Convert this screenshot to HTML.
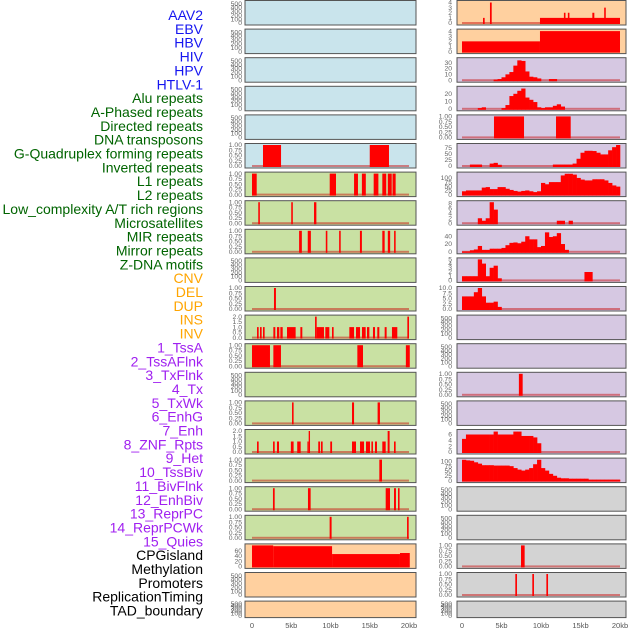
<!DOCTYPE html>
<html><head><meta charset="utf-8"><style>
body{margin:0;background:#fff;width:630px;height:630px;overflow:hidden}
svg{display:block}
.lab{font-family:"Liberation Sans",sans-serif;font-size:14px}
.tk{font-family:"Liberation Sans",sans-serif;font-size:6.8px;fill:#666}
.xt{font-family:"Liberation Sans",sans-serif;font-size:7.5px;fill:#555}
</style></head><body>
<svg id="chart" width="630" height="630"></svg>
<script>
const trackLabels=["AAV2","EBV","HBV","HIV","HPV","HTLV-1","Alu repeats","A-Phased repeats","Directed repeats","DNA transposons","G-Quadruplex forming repeats","Inverted repeats","L1 repeats","L2 repeats","Low_complexity A/T rich regions","Microsatellites","MIR repeats","Mirror repeats","Z-DNA motifs","CNV","DEL","DUP","INS","INV","1_TssA","2_TssAFlnk","3_TxFlnk","4_Tx","5_TxWk","6_EnhG","7_Enh","8_ZNF_Rpts","9_Het","10_TssBiv","11_BivFlnk","12_EnhBiv","13_ReprPC","14_ReprPCWk","15_Quies","CPGisland","Methylation","Promoters","ReplicationTiming","TAD_boundary"];
const labelColors=["#1515f0","#1515f0","#1515f0","#1515f0","#1515f0","#1515f0","#006400","#006400","#006400","#006400","#006400","#006400","#006400","#006400","#006400","#006400","#006400","#006400","#006400","#ffa500","#ffa500","#ffa500","#ffa500","#ffa500","#a020f0","#a020f0","#a020f0","#a020f0","#a020f0","#a020f0","#a020f0","#a020f0","#a020f0","#a020f0","#a020f0","#a020f0","#a020f0","#a020f0","#a020f0","#000","#000","#000","#000","#000"];
const xTicks=[0,5,10,15,20];
const xTickLabels=["0","5kb","10kb","15kb","20kb"];
const barsL5=[[1.4,3.7,1],[15.0,17.45,1]];
const barsL6=[[0,0.6,1],[9.9,10.7,1],[13.0,13.5,1],[14.0,14.5,1],[15.5,16.1,1],[16.6,17.1,1],[17.3,17.8,1],[17.9,18.3,1]];
const barsL7=[[0.8,1.0,1],[5.0,5.2,1],[7.9,8.2,1]];
const barsL8=[[6.0,6.35,1],[7.1,7.5,1],[9.4,9.6,1],[11.1,11.3,1],[13.75,14.0,1],[16.6,16.9,1],[17.3,17.6,1],[18.1,18.3,1]];
const barsL10=[[2.8,3.05,1]];
const barsL11=[[0.64,0.85,1],[1.02,1.23,1],[1.4,1.61,1],[2.72,2.97,1],[3.18,3.48,1],[3.61,3.91,1],[4.46,5.56,1],[6.16,6.41,1],[8.03,8.24,2],[8.24,9.17,1],[9.34,9.85,1],[10.19,10.4,1],[12.4,13.0,1],[13.25,13.76,1],[14.01,14.48,1],[14.65,14.95,1],[15.41,15.67,1],[15.96,16.22,1],[16.9,17.15,1],[17.83,18.51,1],[19.79,20.0,2]];
const barsL12=[[0,2.29,1],[2.72,3.69,1],[13.42,14.14,1],[19.6,20.1,1]];
const barsL14=[[5.1,5.3,1],[12.74,13.0,1],[16.0,16.3,1]];
const barsL15=[[0.64,0.85,1],[2.68,2.89,1],[3.18,3.44,1],[4.95,5.3,1],[5.76,6.2,1],[7.06,7.22,1],[7.22,7.39,2],[8.44,8.66,1],[8.78,9.0,1],[9.97,10.2,1],[12.74,13.25,1],[13.76,14.27,1],[14.52,15.03,1],[15.21,15.41,1],[15.67,15.92,1],[16.6,17.03,1],[17.28,17.53,2],[18.09,18.3,1]];
const barsL16=[[16.22,16.56,1]];
const barsL17=[[2.67,2.89,1],[7.13,7.47,1],[17.03,17.58,1],[18.09,18.34,1],[18.6,18.8,1]];
const barsL18=[[9.89,10.14,1],[19.75,19.96,1]];
const barsL19=[[0,2.7,80],[2.7,10.2,77],[10.2,18.85,47],[18.85,20.1,51]];
const barsR0=[[0,20,0],[2.66,2.87,1],[3.54,3.76,4],[9.87,20,1],[12.9,13.1,2],[13.4,13.6,2],[16.5,16.75,2],[18.0,18.2,3]];
const barsR1=[[0,9.87,2],[9.87,20,4]];
const binsR2=[0,0,0,0,0,0,0,0,1,2,5,10,14,25,34,33,15,6,5,3,0,0,2,2,0,0,0,0,0,0,0,0,0,0,0,0,0,0,0,0];
const binsR3=[0,0,0,0,1,2,0,0,0,0,1,5,17,20,24,27,15,12,9,2,1,2,2,4,6,3,0,0,0,0,0,0,0,0,0,0,0,0,0,0];
const barsR4=[[4.05,7.85,1],[11.9,13.76,1]];
const binsR5=[0,0,6,6,6,0,0,10,13,5,0,0,0,0,0,0,0,0,0,0,0,0,0,6,6,6,6,6,10,30,55,63,63,62,55,48,48,65,78,87];
const binsR6=[20,25,25,25,25,42,45,33,33,45,45,35,28,22,18,22,25,20,15,20,70,62,75,75,75,115,125,125,120,100,90,85,85,92,92,92,85,70,55,48];
const binsR7=[0,0,0,0,2,1,2,8.5,5.5,0,0,0,0,0,0,0,0,0,0,0,0,0,0,0,1,1,0,1,0,0,0,0,0,0,0,0,0,0,0,0];
const binsR8=[1,1,4,6,15,5,5,8,8,8,10,17,23,24,22,26,40,32,32,12,15,50,38,40,48,20,5,0,0,0,0,0,0,0,0,0,0,0,0,0];
const binsR9=[1,1,1,1,5,4,1,3,3.5,0.5,0,0,0,0,0,0,0,0,0,0,0,0,0,0,0,0,0,0,0,0,0,2,2,0,0,0,0,0,0,0];
const binsR10=[6,6,6,8,10,6,3,3,3.5,1,0,0,0,0,0,0,0,0,0,0,0,0,0,0,0,0,0,0,0,0,0,0,0,0,0,0,0,0,0,0];
const barsR13=[[7.2,7.68,1]];
const binsR15=[4.5,6,6,6,6,6,6,6,7,6,6,6,6,7,7,5.5,5.5,5.5,5,3,0,0,0,0,0,0,0,0,0,0,0,0,0,0,0,0,0,0,0,0];
const binsR16=[108,105,103,95,88,80,80,80,78,78,78,78,75,65,57,52,57,65,85,108,65,52,35,25,15,12,12,10,10,10,10,10,5,5,5,5,5,5,5,5];
const barsR19=[[7.47,7.93,1]];
const barsR20=[[6.75,6.96,1],[8.9,9.11,1],[10.68,10.89,1]];

const BLUE="#c9e4ec",GREEN="#c9e1a3",ORANGE="#ffd09f",PURPLE="#d6c8e2",GRAY="#d3d3d3";
const E={ymax:540,ticks:[0,100,200,300,400,500],fmt:0};
const U={ymax:1,ticks:[0,0.25,0.5,0.75,1],fmt:2};
const leftPanels=[
 [BLUE,E,null],[BLUE,E,null],[BLUE,E,null],[BLUE,E,null],[BLUE,E,null],[BLUE,U,{bars:barsL5}],
 [GREEN,U,{bars:barsL6}],[GREEN,U,{bars:barsL7}],[GREEN,U,{bars:barsL8}],[GREEN,E,null],[GREEN,U,{bars:barsL10}],
 [GREEN,{ymax:2,ticks:[0,0.5,1,1.5,2],fmt:1},{bars:barsL11}],[GREEN,U,{bars:barsL12}],[GREEN,E,null],[GREEN,U,{bars:barsL14}],
 [GREEN,{ymax:2,ticks:[0,0.5,1,1.5,2],fmt:1},{bars:barsL15}],[GREEN,U,{bars:barsL16}],[GREEN,U,{bars:barsL17}],[GREEN,U,{bars:barsL18}],
 [ORANGE,{ymax:80,ticks:[0,20,40,60],fmt:0},{bars:barsL19}],[ORANGE,E,null],[ORANGE,E,null]];
const rightPanels=[
 [ORANGE,{ymax:4.1,ticks:[0,1,2,3,4],fmt:0},{bars:barsR0}],[ORANGE,{ymax:4.1,ticks:[0,1,2,3,4],fmt:0},{bars:barsR1}],
 [PURPLE,{ymax:36,ticks:[0,10,20,30],fmt:0},{bins:binsR2}],[PURPLE,{ymax:28,ticks:[0,10,20],fmt:0},{bins:binsR3}],
 [PURPLE,U,{bars:barsR4}],[PURPLE,{ymax:87,ticks:[0,25,50,75],fmt:0},{bins:binsR5}],
 [PURPLE,{ymax:126,ticks:[0,25,50,75,100],fmt:0},{bins:binsR6}],[PURPLE,{ymax:8.5,ticks:[0,2,4,6,8],fmt:0},{bins:binsR7}],
 [PURPLE,{ymax:54,ticks:[0,20,40],fmt:0},{bins:binsR8}],[PURPLE,{ymax:5,ticks:[0,1,2,3,4,5],fmt:0},{bins:binsR9}],
 [PURPLE,{ymax:10,ticks:[0,2.5,5,7.5,10],fmt:1},{bins:binsR10}],[PURPLE,E,null],[PURPLE,E,null],[PURPLE,U,{bars:barsR13}],
 [PURPLE,E,null],[PURPLE,{ymax:7.2,ticks:[0,2,4,6],fmt:0},{bins:binsR15}],[PURPLE,{ymax:109,ticks:[0,25,50,75,100],fmt:0},{bins:binsR16}],
 [GRAY,E,null],[GRAY,E,null],[GRAY,U,{bars:barsR19}],[GRAY,U,{bars:barsR20}],[GRAY,E,null]];

const NS="http://www.w3.org/2000/svg";
const svg=document.getElementById('chart');
function mk(tag,attrs,parent){const e=document.createElementNS(NS,tag);for(const k in attrs)e.setAttribute(k,attrs[k]);(parent||svg).appendChild(e);return e;}

trackLabels.forEach((t,i)=>{
 const e=mk('text',{x:203,y:15+i*13.85+5,'text-anchor':'end',class:'lab',fill:labelColors[i]});
 e.textContent=t;
 
 
});

function drawColumn(panels,px0,px1,x0,kbScale,tickX,colName){
 panels.forEach((p,i)=>{
  const top=28.6*i+0.5, h=(i===21?16.5:24.5);
  const g=mk('g',{});
  
  
  mk('rect',{x:px0,y:top,width:px1-px0,height:h,fill:p[0]},g);
  const cfg=p[1];
  const yb=top+h-2, yt=top+1.5;
  const ys=v=>yb-(v/cfg.ymax)*(yb-yt);
  const xs=kb=>x0+kb*kbScale;
  cfg.ticks.forEach(v=>{
   const t=mk('text',{x:tickX,y:ys(v)+2.2,'text-anchor':'end',class:'tk'},g);
   t.textContent=cfg.fmt?v.toFixed(cfg.fmt):String(v);
   
   
  });
  if(p[2]){
   const base=mk('rect',{x:xs(0),y:yb-1,width:xs(20)-xs(0),height:2,fill:'rgba(200,0,0,0.45)'},g);
   
   
   if(p[2].bars){p[2].bars.forEach(b=>{
     if(b[2]<=0)return;
     const r=mk('rect',{x:xs(b[0]),y:ys(b[2]),width:Math.max(1,xs(b[1])-xs(b[0])),height:yb-ys(b[2])+1,fill:'#ff0000'},g);
     
     
   });}
   if(p[2].bins){p[2].bins.forEach((v,bi)=>{
     if(v<=0)return;
     const r=mk('rect',{x:xs(bi*0.5),y:ys(v),width:xs(0.5)-xs(0)+0.3,height:yb-ys(v)+1,fill:'#ff0000'},g);
     
     
   });}
  }
  mk('rect',{x:px0,y:top,width:px1-px0,height:h,fill:'none',stroke:'#555',"stroke-width":1},g);
 });
 xTicks.forEach((v,i)=>{
  const t=mk('text',{x:x0+v*kbScale,y:628,'text-anchor':'middle',class:'xt'});
  t.textContent=xTickLabels[i];
  
  
 });
}
drawColumn(leftPanels,245,416,252,7.85,242,'left');
drawColumn(rightPanels,457,626,462,7.9,452,'right');
</script>
</body></html>
